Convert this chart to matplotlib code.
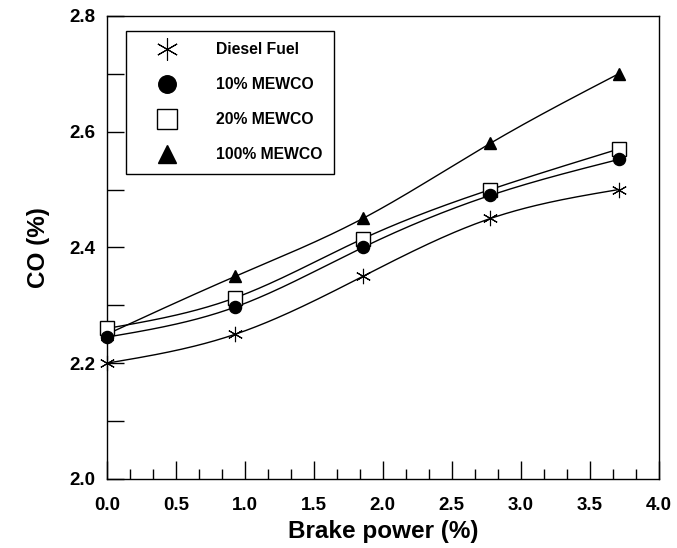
import numpy as np
import matplotlib
matplotlib.use("Agg")
import matplotlib.pyplot as plt
from matplotlib.ticker import MultipleLocator, FormatStrFormatter

plt.rcParams['font.family'] = ['Liberation Sans', 'DejaVu Sans']
plt.rcParams['font.weight'] = 'bold'

brake_power = [0.0, 0.93, 1.855, 2.78, 3.71]
diesel = [2.20, 2.25, 2.35, 2.45, 2.50]
mewco10 = [2.245, 2.297, 2.40, 2.49, 2.552]
mewco20 = [2.26, 2.313, 2.415, 2.50, 2.57]
mewco100 = [2.25, 2.35, 2.45, 2.58, 2.70]
labels = ['Diesel Fuel', '10% MEWCO', '20% MEWCO', '100% MEWCO']


def natural_spline(x, y, n=200):
    x = np.asarray(x, float); y = np.asarray(y, float)
    m = len(x); h = np.diff(x)
    A = np.zeros((m, m)); b = np.zeros(m)
    A[0, 0] = 1; A[-1, -1] = 1
    for i in range(1, m - 1):
        A[i, i - 1] = h[i - 1]; A[i, i] = 2 * (h[i - 1] + h[i]); A[i, i + 1] = h[i]
        b[i] = 6 * ((y[i + 1] - y[i]) / h[i] - (y[i] - y[i - 1]) / h[i - 1])
    M = np.linalg.solve(A, b)
    xs = np.linspace(x[0], x[-1], n)
    idx = np.clip(np.searchsorted(x, xs) - 1, 0, m - 2)
    x0 = x[idx]; x1 = x[idx + 1]; hh = x1 - x0
    ys = (M[idx] * (x1 - xs) ** 3 / (6 * hh) + M[idx + 1] * (xs - x0) ** 3 / (6 * hh)
          + (y[idx] / hh - M[idx] * hh / 6) * (x1 - xs)
          + (y[idx + 1] / hh - M[idx + 1] * hh / 6) * (xs - x0))
    return xs, ys


fig = plt.figure(figsize=(6.77, 5.48), dpi=100)
ax = fig.add_axes([0.158, 0.126, 0.815, 0.845])

series = [diesel, mewco10, mewco20, mewco100]
styles = [
    dict(marker=(6, 2, 0), markersize=11, markerfacecolor='black', markeredgecolor='black', markeredgewidth=0.8),
    dict(marker='o', markersize=8.7, markerfacecolor='black', markeredgecolor='black'),
    dict(marker='s', markersize=9.5, markerfacecolor='white', markeredgecolor='black', markeredgewidth=1.0),
    dict(marker='^', markersize=8.5, markerfacecolor='black', markeredgecolor='black'),
]
zorders = [6, 5, 4, 3]
handles = []
for ys, st, lab, z in zip(series, styles, labels, zorders):
    sx, sy = natural_spline(brake_power, ys)
    ax.plot(sx, sy, color='black', lw=1.0, zorder=2)
    h, = ax.plot(brake_power, ys, linestyle='none', label=lab, zorder=z, clip_on=False, **st)
    handles.append(h)

ax.set_xlim(0, 4.0)
ax.set_ylim(2.0, 2.8)
ax.xaxis.set_major_locator(MultipleLocator(0.5))
ax.xaxis.set_minor_locator(MultipleLocator(0.5 / 3))
ax.yaxis.set_major_locator(MultipleLocator(0.2))
ax.yaxis.set_minor_locator(MultipleLocator(0.1))
ax.xaxis.set_major_formatter(FormatStrFormatter('%.1f'))
ax.yaxis.set_major_formatter(FormatStrFormatter('%.1f'))
ax.tick_params(axis='both', which='both', direction='in', top=False, right=False, width=1.0)
ax.tick_params(axis='x', which='major', length=13, labelsize=13.5, pad=13)
ax.tick_params(axis='x', which='minor', length=7)
ax.tick_params(axis='y', which='major', length=12, labelsize=13.5, pad=8)
ax.tick_params(axis='y', which='minor', length=12)
for lab in ax.get_xticklabels() + ax.get_yticklabels():
    lab.set_fontweight('bold')
for sp in ax.spines.values():
    sp.set_linewidth(1.0)

ax.set_xlabel('Brake power (%)', fontsize=17.5, fontweight='bold', labelpad=4)
ax.set_ylabel('CO (%)', fontsize=17.5, fontweight='bold', labelpad=14)

leg = ax.legend(handles=handles, loc='upper left', bbox_to_anchor=(0.0344, 0.968),
                frameon=True, fancybox=False, edgecolor='black', framealpha=1,
                prop=dict(family='Liberation Sans', weight='bold', size=11.3),
                markerscale=1.45,
                borderpad=0.75, labelspacing=1.27, handletextpad=1.3, handlelength=3.7,
                borderaxespad=0)
leg.get_frame().set_linewidth(1.0)

fig.savefig('out.png', dpi=100)
